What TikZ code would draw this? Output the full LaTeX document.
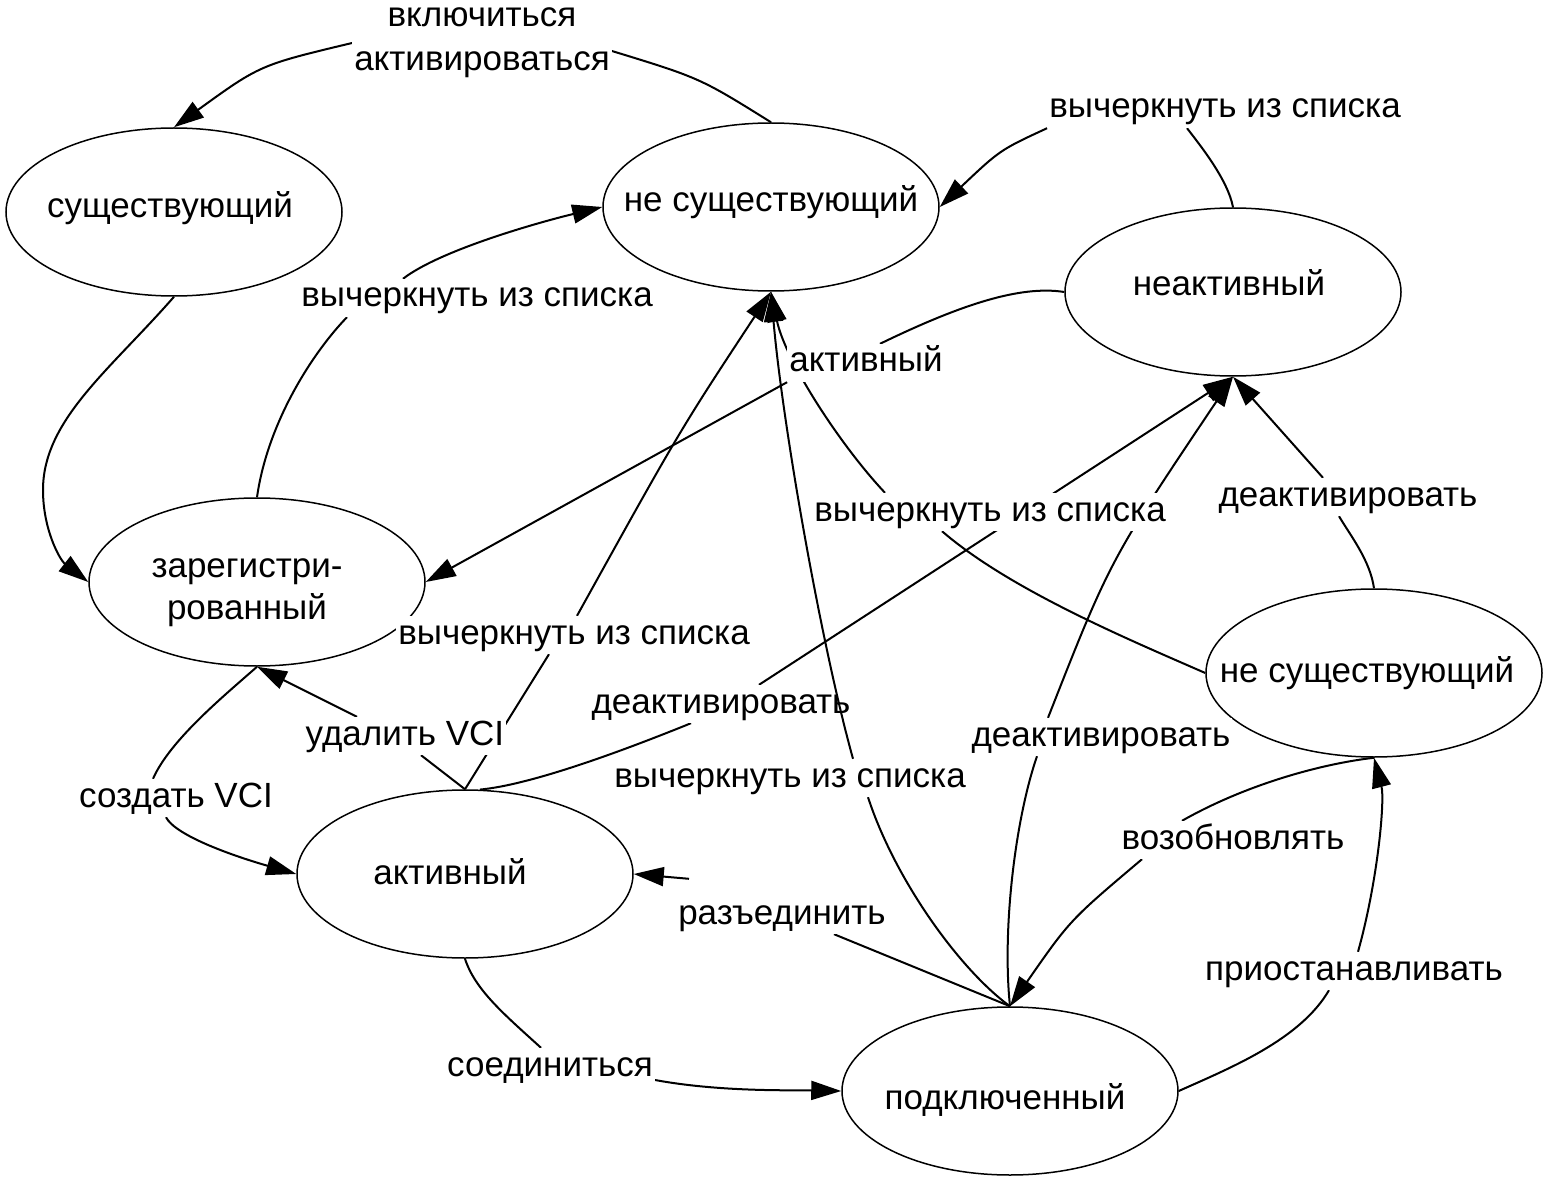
\documentclass[tikz,border=0pt]{standalone}
\usepackage{fontspec}
\setmainfont{Liberation Sans}
\usetikzlibrary{arrows.meta,shapes.geometric}
\pgfdeclarelayer{bg}
\pgfsetlayers{bg,main}
\newcommand{\intext}[3]{\raisebox{\dimexpr -9pt-(#2)\relax}[0pt][0pt]{\makebox[0pt]{\hspace*{#1}\hspace*{#1}#3}}}
\begin{document}
\begin{tikzpicture}[x=1pt,y=-1pt,
  st/.style={draw, line width=1.5pt, ellipse, minimum width=336pt, minimum height=168pt, inner sep=0pt},
  lbl/.style={fill=white, inner sep=2pt, text height=26pt, text depth=8pt},
  edge/.style={line width=2pt},
  arr/.style={edge, -{Triangle[length=30pt,width=19pt]}},
  font=\fontsize{35}{42}\selectfont]
\useasboundingbox (0,0) rectangle (1543,1182);

% states
\node[st] (A) at (174,212) {\intext{-4pt}{-3pt}{существующий}};
\node[st] (B) at (771,207) {\intext{0pt}{-4pt}{не существующий}};
\node[st] (C) at (1233,292) {\intext{-4pt}{-5pt}{неактивный}};
\node[st] (D) at (257,582) {\raisebox{5pt}[0pt][0pt]{\makebox[0pt]{\hspace*{-10pt}\hspace*{-10pt}\begin{tabular}[t]{@{}c@{}}зарегистри-\\рованный\end{tabular}}}};
\node[st] (E) at (1374,673) {\intext{-7pt}{0pt}{не существующий}};
\node[st] (F) at (465,874) {\intext{-15pt}{1pt}{активный}};
\node[st] (G) at (1010,1091) {\intext{-5pt}{9pt}{подключенный}};

% labels
\node[fill=white, inner sep=2pt, align=center, font=\fontsize{35}{44}\selectfont] (L1) at (482,43) {включиться\\активироваться};
\node[lbl] (L2) at (1225,109) {вычеркнуть из списка};
\node[lbl] (L3) at (477,298) {вычеркнуть из списка};
\node[lbl] (L4) at (866,363) {активный};
\node[lbl] (L5) at (990,512) {вычеркнуть из списка};
\node[lbl] (L6) at (1348,497) {деактивировать};
\node[lbl] (L7) at (574,635) {вычеркнуть из списка};
\node[lbl] (L8) at (721,704) {деактивировать};
\node[lbl] (L9) at (405,736) {удалить VCI};
\node[lbl] (L10) at (1101,737) {деактивировать};
\node[lbl] (L11) at (790,778) {вычеркнуть из списка};
\node[lbl] (L12) at (176,798) {создать VCI};
\node[lbl] (L13) at (1233,840) {возобновлять};
\node[lbl] (L14) at (782,915) {разъединить};
\node[lbl] (L15) at (1354,971) {приостанавливать};
\node[lbl] (L16) at (550,1067) {соединиться};

\begin{pgfonlayer}{bg}
% B -> A
\draw[edge] (B.north) .. controls (700,78) .. ([yshift=-8pt]L1.east);
\draw[arr] (L1.west) .. controls (260,65) .. (A.north);
% C -> B
\draw[edge] (C.north) .. controls (1228,180) and (1200,145) .. ([xshift=-38pt]L2.south);
\draw[arr] (L2.south west) .. controls (1000,150) .. (B.east);
% D -> B
\draw[edge] (D.north) .. controls (268,420) and (315,350) .. ([xshift=-130pt]L3.south);
\draw[arr] ([xshift=-74pt]L3.north) .. controls (440,250) and (540,222) .. (B.west);
% A -> D
\draw[arr] (A.south) .. controls (110,370) and (43,420) .. (43,490) .. controls (43,530) and (60,560) .. (D.west);
% C -> D
\draw[edge] (C.west) .. controls (1020,285) and (960,305) .. ([xshift=14pt]L4.north);
\draw[arr] (L4.south west) -- (D.east);
% F -> B
\draw[edge] (F.north) -- ([xshift=-25pt]L7.south);
\draw[arr] ([xshift=3pt]L7.north) .. controls (680,430) .. (B.south);
% E -> B
\draw[edge] (E.west) .. controls (1130,640) and (1010,590) .. ([xshift=-48pt]L5.south);
\draw[arr] ([xshift=-105pt]L5.north) .. controls (840,445) and (785,360) .. (B.south);
% G -> B (lower part)
\draw[edge] (G.north) .. controls (960,970) and (895,880) .. ([xshift=78pt]L11.south);
% F -> C
\draw[edge] (F.80) .. controls (530,785) and (620,752) .. ([xshift=-30pt]L8.south);
\draw[arr] ([xshift=38pt]L8.north) -- (C.south);
% G -> C
\draw[edge] (G.north) .. controls (1002,930) and (1015,820) .. ([xshift=-64pt]L10.south);
\draw[arr] ([xshift=-53pt]L10.north) .. controls (1110,560) .. (C.south);
% E -> C
\draw[edge] (E.north) .. controls (1370,560) and (1350,535) .. ([xshift=-9pt]L6.south);
\draw[arr] ([xshift=-25pt]L6.north) -- (C.south);
% E -> G
\draw[edge] (E.south) .. controls (1320,764) and (1245,785) .. ([xshift=-51pt]L13.north);
\draw[arr] ([xshift=-91pt]L13.south) .. controls (1070,920) .. (G.north);
% G -> E
\draw[edge] (G.east) .. controls (1230,1068) and (1300,1040) .. ([xshift=-25pt]L15.south);
\draw[arr] ([xshift=4pt]L15.north) .. controls (1378,880) and (1385,800) .. (E.south);
% G -> F
\draw[edge] (G.north) -- ([xshift=52pt]L14.south);
\draw[arr] ([shift={(-93pt,17pt)}]L14.north) -- (F.east);
% F -> G
\draw[edge] (F.south) .. controls (475,990) and (505,1015) .. ([xshift=-9pt]L16.north);
\draw[arr] ([yshift=-13pt]L16.east) .. controls (720,1092) and (790,1090) .. (G.west);
% D -> F
\draw[edge] (D.south) .. controls (225,695) and (170,740) .. ([xshift=-23pt]L12.north);
\draw[arr] ([xshift=-10pt]L12.south) .. controls (175,835) and (230,855) .. (F.west);
% F -> D
\draw[edge] (F.north) -- ([xshift=16pt]L9.south);
\draw[arr] ([xshift=-48pt]L9.north) -- (D.south);
\end{pgfonlayer}

% G -> B (upper part, drawn over the labels as in the original)
\draw[arr] ([xshift=63pt]L11.north) .. controls (820,640) and (782,420) .. (B.south);
\end{tikzpicture}
\end{document}
